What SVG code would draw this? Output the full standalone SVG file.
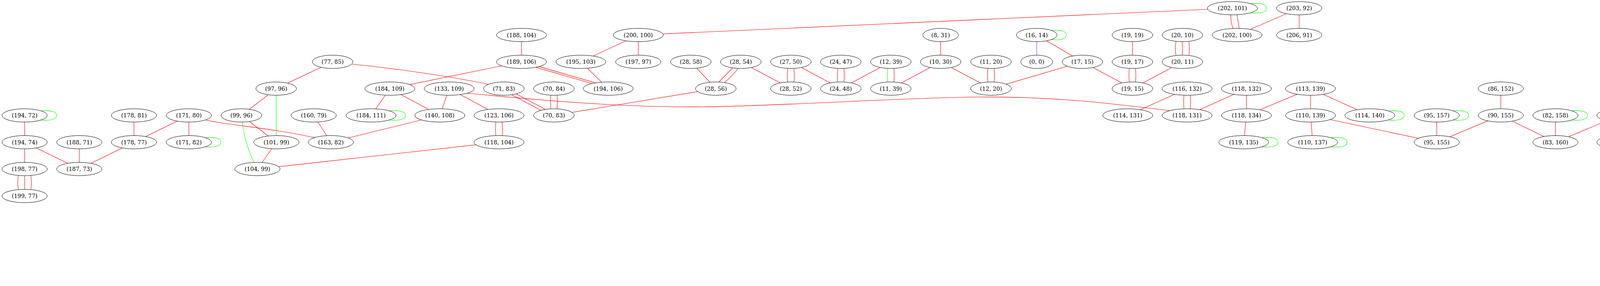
<svg xmlns="http://www.w3.org/2000/svg" width="4969" height="731" viewBox="0 0 4969 731">
<style>
.nd ellipse{fill:#fff;stroke:#000;stroke-width:1}
.nd text{font-family:"DejaVu Serif","Liberation Serif",serif;font-size:14.3px;text-anchor:middle;fill:#000}
#edges path{fill:none;stroke-width:1.1}
.r{stroke:#ff0000}
.g{stroke:#00ff00}
.p{stroke:#a020f0}
</style>
<rect x="0" y="0" width="4969" height="731" fill="#fff"/>
<g id="edges">
<path class="r" d="M63,295L63,363.5"/>
<path class="r" d="M63,363.5L63,432"/>
<path class="r" d="M63,363.5L203,432"/>
<path class="r" d="M203,363.5L203,432"/>
<path class="r" d="M343,295L343,363.5"/>
<path class="r" d="M343,363.5L203,432"/>
<path class="r" d="M483.5,295L343,363.5"/>
<path class="r" d="M483.5,295L483.5,363.5"/>
<path class="r" d="M851.5,158L707,226.5"/>
<path class="r" d="M707,226.5L618,295"/>
<path class="r" d="M618,295L707.5,363.5"/>
<path class="r" d="M707.5,363.5L659,432"/>
<path class="r" d="M803,295L847,363.5"/>
<path class="r" d="M998,226.5L950,295"/>
<path class="r" d="M998,226.5L1126,295"/>
<path class="r" d="M1150,226.5L1126,295"/>
<path class="r" d="M1126,295L847,363.5"/>
<path class="r" d="M1150,226.5L1277.5,295"/>
<path class="r" d="M659,432L1277.5,363.5"/>
<path class="r" d="M1335,89.5L1335,158"/>
<path class="r" d="M1487,158L1557,226.5"/>
<path class="r" d="M1634,89.5L1487,158"/>
<path class="r" d="M1634,89.5L1634,158"/>
<path class="r" d="M1768.5,158L1832.5,226.5"/>
<path class="r" d="M1896.5,158L2024.5,226.5"/>
<path class="r" d="M2024.5,158L2152.5,226.5"/>
<path class="r" d="M2280.5,158L2152.5,226.5"/>
<path class="r" d="M2408,158L2280.5,226.5"/>
<path class="r" d="M2408,89.5L2408,158"/>
<path class="r" d="M2408,158L2537,226.5"/>
<path class="r" d="M2771,158L2537,226.5"/>
<path class="r" d="M2654,89.5L2771,158"/>
<path class="r" d="M2771,158L2899,226.5"/>
<path class="r" d="M2899,89.5L2899,158"/>
<path class="r" d="M3027,158L2899,226.5"/>
<path class="r" d="M3326,21L3167,89.5"/>
<path class="r" d="M3326,21L3326,89.5"/>
<path class="r" d="M3039,226.5L2887,295"/>
<path class="r" d="M3191,226.5L3039,295"/>
<path class="r" d="M3191,226.5L3191,295"/>
<path class="r" d="M3191,295L3184,363.5"/>
<path class="r" d="M3355,226.5L3191,295"/>
<path class="r" d="M3355,226.5L3355,295"/>
<path class="r" d="M3355,226.5L3507,295"/>
<path class="r" d="M3355,295L3360.5,363.5"/>
<path class="r" d="M3355,295L3678,363.5"/>
<path class="r" d="M3678,295L3678,363.5"/>
<path class="r" d="M3842,295L3678,363.5"/>
<path class="r" d="M3842,226.5L3842,295"/>
<path class="r" d="M3842,295L3982,363.5"/>
<path class="r" d="M3982,295L3982,363.5"/>
<path class="r" d="M4146,295L3982,363.5"/>
<path class="r" d="M4286,295L4146,363.5"/>
<path class="r" d="M4286,295L4286,363.5"/>
<path class="r" d="M4286,295L4426,363.5"/>
<path class="r" d="M4566,295L4426,363.5"/>
<path class="r" d="M4566,295L4566,363.5"/>
<path class="r" d="M4566,295L4730,363.5"/>
<path class="r" d="M4718,295L4730,363.5"/>
<path class="r" d="M4882,295L4730,363.5"/>
<path class="r" d="M4882,226.5L4882,295"/>
<path class="r" d="M4882,295L4882,363.5"/>
<path class="r" d="M998,226.5L1335,158"/>
<path class="r" d="M1418,295L1832.5,226.5"/>
<path class="r" d="M1634,89.5L3155,21"/>
<path class="r" d="M527,307C600,322 700,328 805,352"/>
<path class="r" d="M902,164C1000,174 1150,194 1252,216"/>
<path class="r" d="M1195,238C1400,258 1600,275 1800,273S2300,250 2500,248S2850,265 2995,283"/>
<path class="g" d="M707,226.5L707.5,363.5"/>
<path class="g" d="M620,312C625,350 635,385 651,416"/>
<path class="p" d="M2654,89.5L2654,158"/>
<path class="r" d="M47,449C45,460 45,473 47,484"/>
<path class="r" d="M63,449L63,484"/>
<path class="r" d="M79,449C81,460 81,473 79,484"/>
<path class="r" d="M3010.5,106.5C3008.5,117 3008.5,130 3010.5,141"/>
<path class="r" d="M3027,106.5L3027,141"/>
<path class="r" d="M3043.5,106.5C3045.5,117 3045.5,130 3043.5,141"/>
<path class="r" d="M1269.5,312C1268.5,322 1268.5,336 1269.5,346.5"/>
<path class="r" d="M1285.5,312C1286.5,322 1286.5,336 1285.5,346.5"/>
<path class="r" d="M1410,243.5C1409,254 1409,267 1410,278"/>
<path class="r" d="M1426,243.5C1427,254 1427,267 1426,278"/>
<path class="r" d="M2016.5,175C2015.5,185 2015.5,199 2016.5,209.5"/>
<path class="r" d="M2032.5,175C2033.5,185 2033.5,199 2032.5,209.5"/>
<path class="r" d="M2144.5,175C2143.5,185 2143.5,199 2144.5,209.5"/>
<path class="r" d="M2160.5,175C2161.5,185 2161.5,199 2160.5,209.5"/>
<path class="r" d="M2529,175C2528,185 2528,199 2529,209.5"/>
<path class="r" d="M2545,175C2546,185 2546,199 2545,209.5"/>
<path class="r" d="M2891,175C2890,185 2890,199 2891,209.5"/>
<path class="r" d="M2907,175C2908,185 2908,199 2907,209.5"/>
<path class="r" d="M3031,243.5C3030,254 3030,267 3031,278"/>
<path class="r" d="M3047,243.5C3048,254 3048,267 3047,278"/>
<path class="r" d="M4138,312C4137,322 4137,336 4138,346.5"/>
<path class="r" d="M4154,312C4155,322 4155,336 4154,346.5"/>
<path class="r" d="M4418,380.5C4417,391 4417,404 4418,415"/>
<path class="r" d="M4434,380.5C4435,391 4435,404 4434,415"/>
<path class="r" d="M1307.5,241.1L1387.7,283.4"/>
<path class="r" d="M1319.5,239.1L1399,281"/>
<path class="r" d="M1367,170.6L1520,215"/>
<path class="r" d="M1375,168.6L1528,213"/>
<path class="r" d="M1877,172L1840,210"/>
<path class="r" d="M1889.5,174.5C1882,186 1870,198 1855,210.5"/>
<path class="g" d="M2272.5,174.5C2271.5,186 2271.5,198 2272.5,210"/>
<path class="r" d="M2288.5,174.5C2289.5,186 2289.5,198 2288.5,210"/>
<path class="r" d="M3150.7,37.5C3150.2,50 3152.5,62 3156.7,72.5"/>
<path class="r" d="M3166.7,37.5C3168.5,50 3171,62 3172.3,72.5"/>
<path class="g" d="M104.1,283C135,281 145,287 145,295C145,303 135,309 104.1,307"/>
<path class="g" d="M524.6,351.5C555.5,349.5 565.5,355.5 565.5,363.5C565.5,371.5 555.5,377.5 524.6,375.5"/>
<path class="g" d="M995.3,283C1028,281 1038,287 1038,295C1038,303 1028,309 995.3,307"/>
<path class="g" d="M2690.8,77.5C2720,75.5 2730,81.5 2730,89.5C2730,97.5 2720,103.5 2690.8,101.5"/>
<path class="g" d="M3200.3,9C3233,7 3243,13 3243,21C3243,29 3233,35 3200.3,33"/>
<path class="g" d="M3229.3,351.5C3262,349.5 3272,355.5 3272,363.5C3272,371.5 3262,377.5 3229.3,375.5"/>
<path class="g" d="M3405.8,351.5C3438.5,349.5 3448.5,355.5 3448.5,363.5C3448.5,371.5 3438.5,377.5 3405.8,375.5"/>
<path class="g" d="M3552.3,283C3585,281 3595,287 3595,295C3595,303 3585,309 3552.3,307"/>
<path class="g" d="M3719,283C3750,281 3760,287 3760,295C3760,303 3750,309 3719,307"/>
<path class="g" d="M4023,283C4054,281 4064,287 4064,295C4064,303 4054,309 4023,307"/>
<path class="g" d="M4759,283C4790,281 4800,287 4800,295C4800,303 4790,309 4759,307"/>
<path class="g" d="M4607,351.5C4638,349.5 4648,355.5 4648,363.5C4648,371.5 4638,377.5 4607,375.5"/>
<path class="g" d="M4467,420C4498,418 4508,424 4508,432C4508,440 4498,446 4467,444"/>
<path class="g" d="M4923,351.5C4954,349.5 4964,355.5 4964,363.5C4964,371.5 4954,377.5 4923,375.5"/>
</g>
<g id="nodes">
<g class="nd" id="n202_101"><ellipse cx="3155" cy="21" rx="64" ry="17"/><text x="3155" y="26">(202, 101)</text></g>
<g class="nd" id="n203_92"><ellipse cx="3326" cy="21" rx="58" ry="17"/><text x="3326" y="26">(203, 92)</text></g>
<g class="nd" id="n188_104"><ellipse cx="1335" cy="89.5" rx="64" ry="17"/><text x="1335" y="94.5">(188, 104)</text></g>
<g class="nd" id="n200_100"><ellipse cx="1634" cy="89.5" rx="64" ry="17"/><text x="1634" y="94.5">(200, 100)</text></g>
<g class="nd" id="n8_31"><ellipse cx="2408" cy="89.5" rx="45.5" ry="17"/><text x="2408" y="94.5">(8, 31)</text></g>
<g class="nd" id="n16_14"><ellipse cx="2654" cy="89.5" rx="52" ry="17"/><text x="2654" y="94.5">(16, 14)</text></g>
<g class="nd" id="n19_19"><ellipse cx="2899" cy="89.5" rx="52" ry="17"/><text x="2899" y="94.5">(19, 19)</text></g>
<g class="nd" id="n20_10"><ellipse cx="3027" cy="89.5" rx="52" ry="17"/><text x="3027" y="94.5">(20, 10)</text></g>
<g class="nd" id="n202_100"><ellipse cx="3167" cy="89.5" rx="64" ry="17"/><text x="3167" y="94.5">(202, 100)</text></g>
<g class="nd" id="n206_91"><ellipse cx="3326" cy="89.5" rx="58" ry="17"/><text x="3326" y="94.5">(206, 91)</text></g>
<g class="nd" id="n77_85"><ellipse cx="851.5" cy="158" rx="52" ry="17"/><text x="851.5" y="163">(77, 85)</text></g>
<g class="nd" id="n189_106"><ellipse cx="1335" cy="158" rx="64" ry="17"/><text x="1335" y="163">(189, 106)</text></g>
<g class="nd" id="n195_103"><ellipse cx="1487" cy="158" rx="64" ry="17"/><text x="1487" y="163">(195, 103)</text></g>
<g class="nd" id="n197_97"><ellipse cx="1634" cy="158" rx="58" ry="17"/><text x="1634" y="163">(197, 97)</text></g>
<g class="nd" id="n28_58"><ellipse cx="1768.5" cy="158" rx="52" ry="17"/><text x="1768.5" y="163">(28, 58)</text></g>
<g class="nd" id="n28_54"><ellipse cx="1896.5" cy="158" rx="52" ry="17"/><text x="1896.5" y="163">(28, 54)</text></g>
<g class="nd" id="n27_50"><ellipse cx="2024.5" cy="158" rx="52" ry="17"/><text x="2024.5" y="163">(27, 50)</text></g>
<g class="nd" id="n24_47"><ellipse cx="2152.5" cy="158" rx="52" ry="17"/><text x="2152.5" y="163">(24, 47)</text></g>
<g class="nd" id="n12_39"><ellipse cx="2280.5" cy="158" rx="52" ry="17"/><text x="2280.5" y="163">(12, 39)</text></g>
<g class="nd" id="n10_30"><ellipse cx="2408" cy="158" rx="52" ry="17"/><text x="2408" y="163">(10, 30)</text></g>
<g class="nd" id="n11_20"><ellipse cx="2537" cy="158" rx="52" ry="17"/><text x="2537" y="163">(11, 20)</text></g>
<g class="nd" id="n0_0"><ellipse cx="2654" cy="158" rx="41" ry="17"/><text x="2654" y="163">(0, 0)</text></g>
<g class="nd" id="n17_15"><ellipse cx="2771" cy="158" rx="52" ry="17"/><text x="2771" y="163">(17, 15)</text></g>
<g class="nd" id="n19_17"><ellipse cx="2899" cy="158" rx="52" ry="17"/><text x="2899" y="163">(19, 17)</text></g>
<g class="nd" id="n20_11"><ellipse cx="3027" cy="158" rx="52" ry="17"/><text x="3027" y="163">(20, 11)</text></g>
<g class="nd" id="n97_96"><ellipse cx="707" cy="226.5" rx="52" ry="17"/><text x="707" y="231.5">(97, 96)</text></g>
<g class="nd" id="n184_109"><ellipse cx="998" cy="226.5" rx="64" ry="17"/><text x="998" y="231.5">(184, 109)</text></g>
<g class="nd" id="n133_109"><ellipse cx="1150" cy="226.5" rx="64" ry="17"/><text x="1150" y="231.5">(133, 109)</text></g>
<g class="nd" id="n71_83"><ellipse cx="1290" cy="226.5" rx="52" ry="17"/><text x="1290" y="231.5">(71, 83)</text></g>
<g class="nd" id="n70_84"><ellipse cx="1418" cy="226.5" rx="52" ry="17"/><text x="1418" y="231.5">(70, 84)</text></g>
<g class="nd" id="n194_106"><ellipse cx="1557" cy="226.5" rx="64" ry="17"/><text x="1557" y="231.5">(194, 106)</text></g>
<g class="nd" id="n28_56"><ellipse cx="1832.5" cy="226.5" rx="52" ry="17"/><text x="1832.5" y="231.5">(28, 56)</text></g>
<g class="nd" id="n28_52"><ellipse cx="2024.5" cy="226.5" rx="52" ry="17"/><text x="2024.5" y="231.5">(28, 52)</text></g>
<g class="nd" id="n24_48"><ellipse cx="2152.5" cy="226.5" rx="52" ry="17"/><text x="2152.5" y="231.5">(24, 48)</text></g>
<g class="nd" id="n11_39"><ellipse cx="2280.5" cy="226.5" rx="52" ry="17"/><text x="2280.5" y="231.5">(11, 39)</text></g>
<g class="nd" id="n12_20"><ellipse cx="2537" cy="226.5" rx="52" ry="17"/><text x="2537" y="231.5">(12, 20)</text></g>
<g class="nd" id="n19_15"><ellipse cx="2899" cy="226.5" rx="52" ry="17"/><text x="2899" y="231.5">(19, 15)</text></g>
<g class="nd" id="n116_132"><ellipse cx="3039" cy="226.5" rx="64" ry="17"/><text x="3039" y="231.5">(116, 132)</text></g>
<g class="nd" id="n118_132"><ellipse cx="3191" cy="226.5" rx="64" ry="17"/><text x="3191" y="231.5">(118, 132)</text></g>
<g class="nd" id="n113_139"><ellipse cx="3355" cy="226.5" rx="64" ry="17"/><text x="3355" y="231.5">(113, 139)</text></g>
<g class="nd" id="n86_152"><ellipse cx="3842" cy="226.5" rx="58" ry="17"/><text x="3842" y="231.5">(86, 152)</text></g>
<g class="nd" id="n55_213"><ellipse cx="4882" cy="226.5" rx="58" ry="17"/><text x="4882" y="231.5">(55, 213)</text></g>
<g class="nd" id="n194_72"><ellipse cx="63" cy="295" rx="58" ry="17"/><text x="63" y="300">(194, 72)</text></g>
<g class="nd" id="n178_81"><ellipse cx="343" cy="295" rx="58" ry="17"/><text x="343" y="300">(178, 81)</text></g>
<g class="nd" id="n171_80"><ellipse cx="483.5" cy="295" rx="58" ry="17"/><text x="483.5" y="300">(171, 80)</text></g>
<g class="nd" id="n99_96"><ellipse cx="618" cy="295" rx="52" ry="17"/><text x="618" y="300">(99, 96)</text></g>
<g class="nd" id="n160_79"><ellipse cx="803" cy="295" rx="58" ry="17"/><text x="803" y="300">(160, 79)</text></g>
<g class="nd" id="n184_111"><ellipse cx="950" cy="295" rx="64" ry="17"/><text x="950" y="300">(184, 111)</text></g>
<g class="nd" id="n140_108"><ellipse cx="1126" cy="295" rx="64" ry="17"/><text x="1126" y="300">(140, 108)</text></g>
<g class="nd" id="n123_106"><ellipse cx="1277.5" cy="295" rx="64" ry="17"/><text x="1277.5" y="300">(123, 106)</text></g>
<g class="nd" id="n70_83"><ellipse cx="1418" cy="295" rx="52" ry="17"/><text x="1418" y="300">(70, 83)</text></g>
<g class="nd" id="n114_131"><ellipse cx="2887" cy="295" rx="64" ry="17"/><text x="2887" y="300">(114, 131)</text></g>
<g class="nd" id="n118_131"><ellipse cx="3039" cy="295" rx="64" ry="17"/><text x="3039" y="300">(118, 131)</text></g>
<g class="nd" id="n118_134"><ellipse cx="3191" cy="295" rx="64" ry="17"/><text x="3191" y="300">(118, 134)</text></g>
<g class="nd" id="n110_139"><ellipse cx="3355" cy="295" rx="64" ry="17"/><text x="3355" y="300">(110, 139)</text></g>
<g class="nd" id="n114_140"><ellipse cx="3507" cy="295" rx="64" ry="17"/><text x="3507" y="300">(114, 140)</text></g>
<g class="nd" id="n95_157"><ellipse cx="3678" cy="295" rx="58" ry="17"/><text x="3678" y="300">(95, 157)</text></g>
<g class="nd" id="n90_155"><ellipse cx="3842" cy="295" rx="58" ry="17"/><text x="3842" y="300">(90, 155)</text></g>
<g class="nd" id="n82_158"><ellipse cx="3982" cy="295" rx="58" ry="17"/><text x="3982" y="300">(82, 158)</text></g>
<g class="nd" id="n83_163"><ellipse cx="4146" cy="295" rx="58" ry="17"/><text x="4146" y="300">(83, 163)</text></g>
<g class="nd" id="n77_163"><ellipse cx="4286" cy="295" rx="58" ry="17"/><text x="4286" y="300">(77, 163)</text></g>
<g class="nd" id="n67_169"><ellipse cx="4566" cy="295" rx="58" ry="17"/><text x="4566" y="300">(67, 169)</text></g>
<g class="nd" id="n67_173"><ellipse cx="4718" cy="295" rx="58" ry="17"/><text x="4718" y="300">(67, 173)</text></g>
<g class="nd" id="n64_171"><ellipse cx="4882" cy="295" rx="58" ry="17"/><text x="4882" y="300">(64, 171)</text></g>
<g class="nd" id="n194_74"><ellipse cx="63" cy="363.5" rx="58" ry="17"/><text x="63" y="368.5">(194, 74)</text></g>
<g class="nd" id="n188_71"><ellipse cx="203" cy="363.5" rx="58" ry="17"/><text x="203" y="368.5">(188, 71)</text></g>
<g class="nd" id="n178_77"><ellipse cx="343" cy="363.5" rx="58" ry="17"/><text x="343" y="368.5">(178, 77)</text></g>
<g class="nd" id="n171_82"><ellipse cx="483.5" cy="363.5" rx="58" ry="17"/><text x="483.5" y="368.5">(171, 82)</text></g>
<g class="nd" id="n101_99"><ellipse cx="707.5" cy="363.5" rx="58" ry="17"/><text x="707.5" y="368.5">(101, 99)</text></g>
<g class="nd" id="n163_82"><ellipse cx="847" cy="363.5" rx="58" ry="17"/><text x="847" y="368.5">(163, 82)</text></g>
<g class="nd" id="n118_104"><ellipse cx="1277.5" cy="363.5" rx="64" ry="17"/><text x="1277.5" y="368.5">(118, 104)</text></g>
<g class="nd" id="n119_135"><ellipse cx="3184" cy="363.5" rx="64" ry="17"/><text x="3184" y="368.5">(119, 135)</text></g>
<g class="nd" id="n110_137"><ellipse cx="3360.5" cy="363.5" rx="64" ry="17"/><text x="3360.5" y="368.5">(110, 137)</text></g>
<g class="nd" id="n95_155"><ellipse cx="3678" cy="363.5" rx="58" ry="17"/><text x="3678" y="368.5">(95, 155)</text></g>
<g class="nd" id="n83_160"><ellipse cx="3982" cy="363.5" rx="58" ry="17"/><text x="3982" y="368.5">(83, 160)</text></g>
<g class="nd" id="n80_164"><ellipse cx="4146" cy="363.5" rx="58" ry="17"/><text x="4146" y="368.5">(80, 164)</text></g>
<g class="nd" id="n73_160"><ellipse cx="4286" cy="363.5" rx="58" ry="17"/><text x="4286" y="368.5">(73, 160)</text></g>
<g class="nd" id="n70_169"><ellipse cx="4426" cy="363.5" rx="58" ry="17"/><text x="4426" y="368.5">(70, 169)</text></g>
<g class="nd" id="n67_167"><ellipse cx="4566" cy="363.5" rx="58" ry="17"/><text x="4566" y="368.5">(67, 167)</text></g>
<g class="nd" id="n67_171"><ellipse cx="4730" cy="363.5" rx="58" ry="17"/><text x="4730" y="368.5">(67, 171)</text></g>
<g class="nd" id="n63_170"><ellipse cx="4882" cy="363.5" rx="58" ry="17"/><text x="4882" y="368.5">(63, 170)</text></g>
<g class="nd" id="n198_77"><ellipse cx="63" cy="432" rx="58" ry="17"/><text x="63" y="437">(198, 77)</text></g>
<g class="nd" id="n187_73"><ellipse cx="203" cy="432" rx="58" ry="17"/><text x="203" y="437">(187, 73)</text></g>
<g class="nd" id="n104_99"><ellipse cx="659" cy="432" rx="58" ry="17"/><text x="659" y="437">(104, 99)</text></g>
<g class="nd" id="n71_170"><ellipse cx="4426" cy="432" rx="58" ry="17"/><text x="4426" y="437">(71, 170)</text></g>
<g class="nd" id="n199_77"><ellipse cx="63" cy="501" rx="58" ry="17"/><text x="63" y="506">(199, 77)</text></g>
</g>
</svg>
